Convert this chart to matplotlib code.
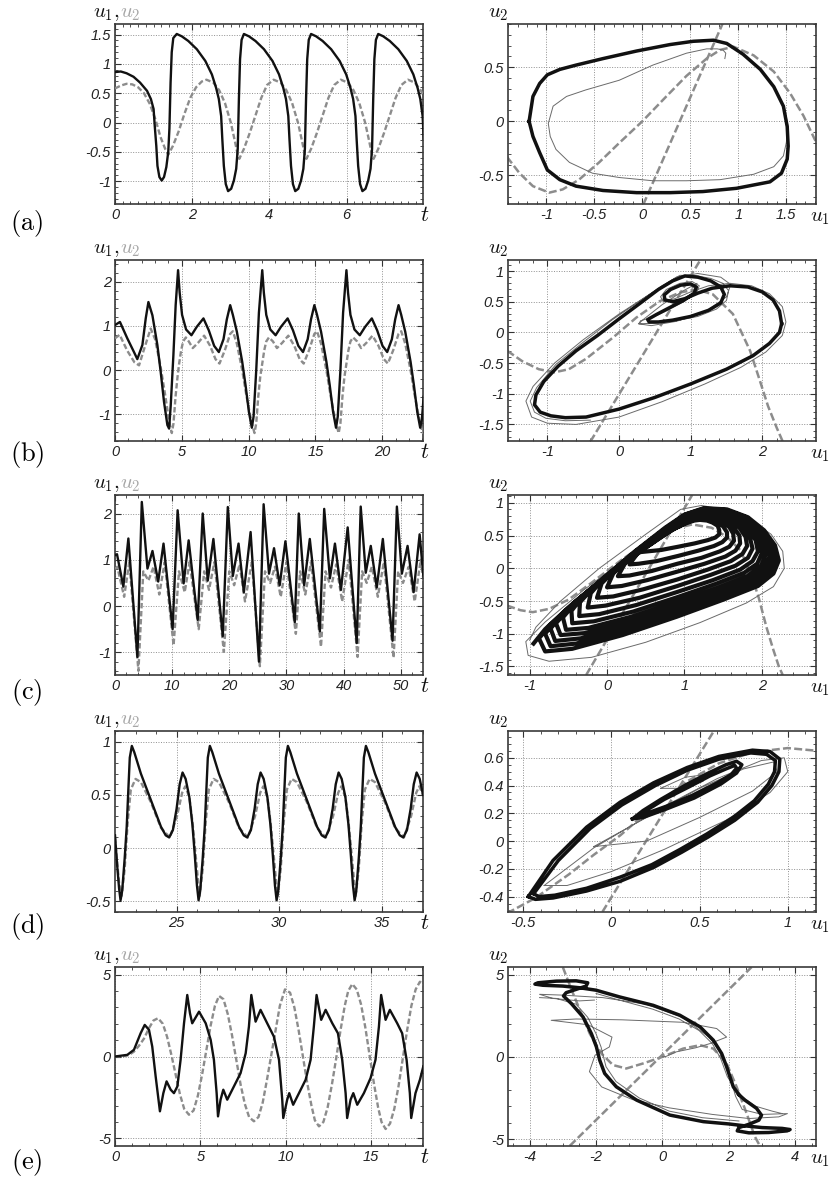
import numpy as np
import matplotlib
matplotlib.use("Agg")
import matplotlib.pyplot as plt
from matplotlib.ticker import AutoMinorLocator

plt.rcParams["font.family"] = ["Liberation Sans", "DejaVu Sans"]
plt.rcParams["mathtext.fontset"] = "cm"

nan = np.nan

# ---------------- row (a) ----------------
a_u1 = [(0.00, 0.86), (0.15, 0.87), (0.30, 0.84), (0.48, 0.78), (0.65, 0.68), (0.83, 0.54), (0.93, 0.40),
        (1.00, 0.23), (1.03, -0.06), (1.07, -0.40), (1.10, -0.74), (1.15, -0.93), (1.21, -0.99), (1.27, -0.93),
        (1.33, -0.76), (1.38, -0.50), (1.41, -0.10), (1.44, 0.68), (1.47, 1.20), (1.51, 1.44), (1.60, 1.51),
        (1.73, 1.47), (1.90, 1.39), (2.12, 1.25), (2.34, 1.05), (2.51, 0.82), (2.62, 0.59), (2.69, 0.40),
        (2.75, 0.11), (2.78, -0.28), (2.82, -0.74), (2.87, -1.05), (2.93, -1.17), (3.01, -1.13), (3.08, -0.99),
        (3.14, -0.79), (3.18, -0.45), (3.21, 0.40), (3.24, 1.08), (3.28, 1.41), (3.34, 1.51),
        (3.47, 1.47), (3.64, 1.39), (3.86, 1.25), (4.08, 1.05), (4.25, 0.82), (4.36, 0.59), (4.43, 0.40),
        (4.49, 0.11), (4.52, -0.28), (4.56, -0.74), (4.61, -1.05), (4.67, -1.17), (4.75, -1.13), (4.82, -0.99),
        (4.88, -0.79), (4.92, -0.45), (4.95, 0.40), (4.98, 1.08), (5.02, 1.41), (5.08, 1.51),
        (5.21, 1.47), (5.38, 1.39), (5.60, 1.25), (5.82, 1.05), (5.99, 0.82), (6.10, 0.59), (6.17, 0.40),
        (6.23, 0.11), (6.26, -0.28), (6.30, -0.74), (6.35, -1.05), (6.41, -1.17), (6.49, -1.13), (6.56, -0.99),
        (6.62, -0.79), (6.66, -0.45), (6.69, 0.40), (6.72, 1.08), (6.76, 1.41), (6.82, 1.51),
        (6.95, 1.47), (7.12, 1.39), (7.34, 1.25), (7.56, 1.05), (7.73, 0.82), (7.84, 0.59), (7.91, 0.40),
        (7.97, 0.11), (8.00, -0.28)]
a_u2 = [(0.00, 0.58), (0.15, 0.63), (0.30, 0.66), (0.45, 0.65), (0.60, 0.60), (0.75, 0.50), (0.90, 0.32),
        (1.05, 0.05), (1.18, -0.25), (1.30, -0.45), (1.38, -0.55), (1.50, -0.40), (1.65, -0.15), (1.80, 0.15),
        (1.95, 0.42), (2.10, 0.60), (2.25, 0.70), (2.37, 0.73), (2.55, 0.68), (2.70, 0.55), (2.85, 0.33),
        (3.00, 0.00), (3.10, -0.30), (3.18, -0.55), (3.22, -0.62),
        (3.34, -0.45), (3.49, -0.18), (3.64, 0.12), (3.79, 0.42), (3.94, 0.64), (4.11, 0.73), (4.29, 0.68),
        (4.44, 0.55), (4.59, 0.33), (4.74, 0.00), (4.84, -0.30), (4.92, -0.55), (4.96, -0.62),
        (5.08, -0.45), (5.23, -0.18), (5.38, 0.12), (5.53, 0.42), (5.68, 0.64), (5.85, 0.73), (6.03, 0.68),
        (6.18, 0.55), (6.33, 0.33), (6.48, 0.00), (6.58, -0.30), (6.66, -0.55), (6.70, -0.62),
        (6.82, -0.45), (6.97, -0.18), (7.12, 0.12), (7.27, 0.42), (7.42, 0.64), (7.59, 0.73), (7.77, 0.68),
        (7.92, 0.55), (8.00, 0.45)]
a_orbit = [(-1.18, 0.00), (-1.14, 0.23), (-1.07, 0.35), (-0.99, 0.43), (-0.86, 0.48), (-0.69, 0.52),
           (-0.41, 0.58), (-0.06, 0.65), (0.29, 0.71), (0.53, 0.74), (0.74, 0.75), (0.88, 0.72), (1.05, 0.62),
           (1.23, 0.48), (1.37, 0.32), (1.47, 0.14), (1.51, -0.05), (1.52, -0.23), (1.51, -0.35), (1.45, -0.48),
           (1.33, -0.56), (0.98, -0.62), (0.63, -0.65), (0.29, -0.66), (-0.06, -0.66), (-0.41, -0.64),
           (-0.69, -0.60), (-0.86, -0.54), (-0.99, -0.45), (-1.07, -0.29), (-1.14, -0.14), (-1.18, 0.00)]
a_transient = [(0.86, 0.58), (0.87, 0.63), (0.84, 0.66), (0.78, 0.67), (0.67, 0.67), (0.46, 0.63), (0.11, 0.52),
               (-0.24, 0.38), (-0.59, 0.29), (-0.79, 0.23), (-0.93, 0.14), (-0.98, -0.02), (-0.96, -0.14),
               (-0.90, -0.26), (-0.76, -0.38), (-0.52, -0.48), (-0.24, -0.52), (0.11, -0.55), (0.46, -0.55),
               (0.81, -0.54), (1.16, -0.49), (1.37, -0.42), (1.47, -0.32), (1.50, -0.20), (1.52, -0.05),
               (1.48, 0.13)]
a_null_line = [(0.01, -0.77), (0.84, 0.91)]
a_null_cubic = [(-1.41, -0.33), (-1.28, -0.48), (-1.14, -0.60), (-0.97, -0.66), (-0.83, -0.63), (-0.66, -0.54),
                (-0.45, -0.38), (-0.24, -0.20), (0.00, 0.00), (0.25, 0.23), (0.46, 0.42), (0.67, 0.58),
                (0.81, 0.66), (0.95, 0.69), (1.16, 0.61), (1.37, 0.46), (1.54, 0.26), (1.68, 0.05), (1.82, -0.21)]

# ---------------- row (b) ----------------
b_u1 = [(0.00, 1.02), (0.37, 1.09), (0.92, 0.72), (1.42, 0.41), (1.67, 0.25), (2.05, 0.57), (2.30, 1.17),
        (2.50, 1.54), (2.80, 1.24), (3.17, 0.57), (3.42, -0.04), (3.67, -0.72), (3.92, -1.24), (4.05, -1.32),
        (4.17, -0.80), (4.37, 0.34), (4.54, 1.47), (4.72, 2.26),
        (4.84, 1.75), (5.02, 1.25), (5.32, 0.92), (5.72, 0.79), (6.12, 0.98), (6.62, 1.17), (7.02, 0.90),
        (7.42, 0.55), (7.77, 0.41), (8.12, 0.70), (8.37, 1.15), (8.62, 1.47), (8.82, 1.25), (9.12, 0.87),
        (9.52, 0.19), (9.77, -0.34), (10.02, -0.94), (10.24, -1.30), (10.37, -1.05), (10.57, 0.00),
        (10.77, 1.30), (11.02, 2.26),
        (11.14, 1.75), (11.32, 1.25), (11.62, 0.92), (12.02, 0.79), (12.42, 0.98), (12.92, 1.17), (13.32, 0.90),
        (13.72, 0.55), (14.07, 0.41), (14.42, 0.70), (14.67, 1.15), (14.92, 1.47), (15.12, 1.25), (15.42, 0.87),
        (15.82, 0.19), (16.07, -0.34), (16.32, -0.94), (16.54, -1.30), (16.67, -1.05), (16.87, 0.00),
        (17.07, 1.30), (17.32, 2.26),
        (17.44, 1.75), (17.62, 1.25), (17.92, 0.92), (18.32, 0.79), (18.72, 0.98), (19.22, 1.17), (19.62, 0.90),
        (20.02, 0.55), (20.37, 0.41), (20.72, 0.70), (20.97, 1.15), (21.22, 1.47), (21.42, 1.25), (21.72, 0.87),
        (22.12, 0.19), (22.37, -0.34), (22.62, -0.94), (22.84, -1.30), (22.97, -1.10), (23.10, -0.60)]
b_u2 = [(0.00, 0.72), (0.35, 0.80), (0.90, 0.45), (1.45, 0.18), (1.80, 0.11), (2.20, 0.50), (2.67, 0.94),
        (3.00, 0.70), (3.40, 0.10), (3.75, -0.55), (4.05, -1.15), (4.25, -1.42), (4.38, -1.20), (4.53, -0.60),
        (4.68, -0.15), (4.80, 0.15), (4.95, 0.45), (5.10, 0.65), (5.30, 0.74),
        (5.52, 0.65), (5.82, 0.50), (6.22, 0.62), (6.67, 0.78), (7.12, 0.55), (7.52, 0.25), (7.82, 0.15),
        (8.22, 0.45), (8.62, 0.82), (8.82, 0.88), (9.12, 0.60), (9.52, 0.00), (9.82, -0.55), (10.07, -0.95),
        (10.24, -1.20), (10.44, -1.42), (10.57, -1.20), (10.72, -0.60), (10.87, -0.15), (11.02, 0.15),
        (11.17, 0.45), (11.32, 0.65), (11.52, 0.74),
        (11.82, 0.65), (12.12, 0.50), (12.52, 0.62), (12.97, 0.78), (13.42, 0.55), (13.82, 0.25), (14.12, 0.15),
        (14.52, 0.45), (14.92, 0.82), (15.12, 0.88), (15.42, 0.60), (15.82, 0.00), (16.12, -0.55),
        (16.37, -0.95), (16.54, -1.20), (16.74, -1.42), (16.87, -1.20), (17.02, -0.60), (17.17, -0.15),
        (17.32, 0.15), (17.47, 0.45), (17.62, 0.65), (17.82, 0.74),
        (18.12, 0.65), (18.42, 0.50), (18.82, 0.62), (19.27, 0.78), (19.72, 0.55), (20.12, 0.25), (20.42, 0.15),
        (20.82, 0.45), (21.22, 0.82), (21.42, 0.88), (21.72, 0.60), (22.12, 0.00), (22.42, -0.55),
        (22.67, -0.95), (22.84, -1.20), (23.04, -1.42), (23.10, -1.35)]
b_orbit = [(2.27, 0.14), (2.24, 0.35), (2.15, 0.53), (2.00, 0.66), (1.80, 0.74), (1.55, 0.76), (1.30, 0.72),
           (1.10, 0.64), (0.92, 0.55), (0.75, 0.50), (0.64, 0.53), (0.63, 0.61), (0.72, 0.70), (0.86, 0.77),
           (1.00, 0.79), (1.08, 0.74), (1.05, 0.64), (0.90, 0.52), (0.70, 0.40), (0.52, 0.29), (0.40, 0.21),
           (0.42, 0.17), (0.55, 0.17), (0.75, 0.20), (1.00, 0.26), (1.25, 0.36), (1.42, 0.48), (1.47, 0.62),
           (1.42, 0.74), (1.28, 0.84), (1.10, 0.90), (0.92, 0.92), (0.75, 0.84), (0.55, 0.70), (0.30, 0.48),
           (0.00, 0.22), (-0.30, -0.05), (-0.60, -0.30), (-0.85, -0.55), (-1.05, -0.80), (-1.16, -1.02),
           (-1.18, -1.18), (-1.10, -1.30), (-0.95, -1.36), (-0.75, -1.39), (-0.46, -1.38), (0.00, -1.25),
           (0.50, -1.06), (1.00, -0.84), (1.50, -0.60), (1.87, -0.38), (2.10, -0.18), (2.24, 0.00), (2.27, 0.14)]
b_transient = [(1.02, 0.72), (1.09, 0.80), (0.90, 0.68), (0.60, 0.45), (0.35, 0.22), (0.27, 0.14), (0.45, 0.11),
               (0.80, 0.18), (1.20, 0.33), (1.50, 0.58), (1.56, 0.78), (1.42, 0.90), (1.10, 0.96), (0.80, 0.90),
               (0.40, 0.60), (0.00, 0.30), (-0.50, -0.12), (-0.90, -0.50), (-1.20, -0.88), (-1.30, -1.12),
               (-1.22, -1.38), (-1.00, -1.48), (-0.60, -1.50), (0.00, -1.38), (0.60, -1.13), (1.20, -0.84),
               (1.70, -0.57), (2.05, -0.32), (2.28, -0.05), (2.33, 0.17), (2.28, 0.42), (2.10, 0.63),
               (1.85, 0.76), (1.55, 0.80), (1.25, 0.76), (1.00, 0.66), (0.78, 0.55), (0.62, 0.50), (0.58, 0.58),
               (0.66, 0.70), (0.85, 0.80), (1.02, 0.83), (1.12, 0.76), (1.08, 0.64), (0.90, 0.50), (0.68, 0.36),
               (0.48, 0.25), (0.30, 0.19), (0.28, 0.14), (0.50, 0.15), (0.80, 0.19), (1.10, 0.26), (1.36, 0.38),
               (1.50, 0.52), (1.53, 0.68), (1.45, 0.80), (1.28, 0.88), (1.05, 0.93), (0.85, 0.93), (0.60, 0.76),
               (0.30, 0.52), (-0.10, 0.20), (-0.50, -0.16), (-0.88, -0.52), (-1.15, -0.90), (-1.24, -1.12),
               (-1.18, -1.30), (-1.02, -1.40), (-0.75, -1.44), (-0.40, -1.43)]
b_null_line = [(-0.40, -1.78), (1.13, 1.17)]
b_null_cubic = [(-1.56, -0.30), (-1.35, -0.47), (-1.12, -0.60), (-0.90, -0.65), (-0.70, -0.60), (-0.46, -0.43),
                (-0.08, -0.08), (0.24, 0.24), (0.57, 0.51), (0.85, 0.65), (1.08, 0.70), (1.31, 0.62),
                (1.59, 0.30), (1.83, -0.30), (1.97, -0.80), (2.08, -1.20), (2.20, -1.55), (2.29, -1.79)]

# ---------------- row (c) ----------------
c_u1 = [(0.00, 1.10), (0.35, 1.12), (1.46, 0.42), (2.34, 1.46), (3.92, -1.10), (4.69, 2.25), (5.68, 0.81),
        (6.56, 1.19), (7.56, 0.53), (8.49, 1.35), (10.08, -0.50), (10.96, 2.07), (12.01, 0.49), (12.89, 1.42),
        (14.47, -0.30), (15.35, 2.00), (16.23, 0.55), (17.22, 1.45), (18.86, -0.65), (19.74, 2.14),
        (20.62, 0.65), (21.62, 1.35), (22.55, 0.30), (23.73, 1.60), (25.19, -1.20), (26.01, 2.20),
        (26.95, 0.70), (27.83, 1.25), (28.82, 0.45), (29.82, 1.40), (31.46, -0.35), (32.16, 2.00),
        (33.10, 0.45), (34.09, 1.45), (35.85, -0.55), (36.61, 2.10), (37.61, 0.60), (38.49, 1.35),
        (39.54, 0.35), (40.72, 1.70), (42.30, -0.80), (43.00, 2.15), (43.88, 0.72), (44.76, 1.30),
        (45.81, 0.40), (46.87, 1.45), (48.57, -0.75), (49.33, 2.15), (50.20, 0.70), (51.20, 1.30),
        (52.26, 0.30), (53.31, 1.55), (54.00, 0.60)]
c_u2 = [(0.00, 0.80), (0.40, 0.85), (1.60, 0.20), (2.50, 0.95), (4.10, -1.40), (4.95, 0.75), (5.85, 0.55),
        (6.75, 0.85), (7.75, 0.25), (8.70, 0.95), (10.25, -0.85), (11.20, 0.75), (12.20, 0.30), (13.05, 0.95),
        (14.65, -0.50), (15.60, 0.75), (16.45, 0.35), (17.40, 0.95), (19.05, -0.99), (20.00, 0.75),
        (20.85, 0.45), (21.80, 0.90), (22.75, 0.10), (23.95, 0.95), (25.35, -1.30), (26.25, 0.75),
        (27.15, 0.50), (28.00, 0.85), (29.00, 0.20), (30.00, 0.95), (31.65, -0.60), (32.40, 0.75),
        (33.30, 0.25), (34.30, 0.95), (36.05, -0.88), (36.85, 0.75), (37.80, 0.40), (38.70, 0.90),
        (39.75, 0.10), (40.90, 1.00), (42.45, -1.10), (43.25, 0.75), (44.05, 0.50), (44.95, 0.85),
        (46.00, 0.20), (47.05, 0.95), (48.75, -1.12), (49.55, 0.75), (50.40, 0.50), (51.40, 0.85),
        (52.45, 0.10), (53.50, 1.00), (54.00, 0.55)]
# nested loops of the chaotic band, outermost first (20 points per loop)
c_orbit = [
    (-0.95, -1.15), (-0.80, -0.93), (-0.50, -0.60), (-0.10, -0.20), (0.35, 0.25), (0.75, 0.62), (1.00, 0.82),
    (1.25, 0.92), (1.55, 0.90), (1.82, 0.78), (2.03, 0.58), (2.17, 0.35), (2.22, 0.12), (2.15, -0.08),
    (1.95, -0.27), (1.50, -0.48), (0.90, -0.74), (0.20, -1.02), (-0.45, -1.23), (-0.80, -1.27),
    (-0.88, -1.07), (-0.73, -0.86), (-0.44, -0.54), (-0.05, -0.16), (0.38, 0.27), (0.77, 0.62), (1.01, 0.82),
    (1.25, 0.91), (1.54, 0.89), (1.80, 0.78), (2.00, 0.58), (2.13, 0.36), (2.18, 0.14), (2.11, -0.05),
    (1.92, -0.23), (1.48, -0.43), (0.90, -0.68), (0.23, -0.95), (-0.40, -1.15), (-0.73, -1.19),
    (-0.80, -1.00), (-0.66, -0.79), (-0.38, -0.48), (0.00, -0.12), (0.41, 0.29), (0.78, 0.63), (1.01, 0.81),
    (1.25, 0.90), (1.52, 0.88), (1.77, 0.77), (1.97, 0.59), (2.09, 0.38), (2.14, 0.16), (2.07, -0.02),
    (1.88, -0.20), (1.46, -0.39), (0.90, -0.63), (0.25, -0.88), (-0.34, -1.07), (-0.67, -1.11),
    (-0.73, -0.92), (-0.59, -0.72), (-0.32, -0.43), (0.04, -0.08), (0.44, 0.31), (0.80, 0.63), (1.02, 0.81),
    (1.24, 0.89), (1.51, 0.87), (1.75, 0.77), (1.93, 0.59), (2.05, 0.39), (2.10, 0.18), (2.03, 0.01),
    (1.85, -0.16), (1.44, -0.34), (0.90, -0.57), (0.28, -0.81), (-0.29, -0.99), (-0.60, -1.02),
    (-0.66, -0.84), (-0.52, -0.65), (-0.26, -0.37), (0.09, -0.04), (0.47, 0.33), (0.81, 0.64), (1.03, 0.80),
    (1.24, 0.88), (1.49, 0.86), (1.72, 0.76), (1.90, 0.59), (2.02, 0.40), (2.05, 0.21), (1.99, 0.04),
    (1.81, -0.12), (1.42, -0.30), (0.90, -0.51), (0.31, -0.74), (-0.24, -0.91), (-0.53, -0.94),
    (-0.57, -0.75), (-0.44, -0.57), (-0.18, -0.30), (0.15, 0.01), (0.51, 0.36), (0.83, 0.64), (1.04, 0.79),
    (1.24, 0.87), (1.48, 0.85), (1.69, 0.76), (1.86, 0.60), (1.97, 0.42), (2.00, 0.23), (1.94, 0.07),
    (1.77, -0.07), (1.40, -0.24), (0.91, -0.44), (0.34, -0.66), (-0.17, -0.81), (-0.45, -0.84),
    (-0.46, -0.65), (-0.34, -0.47), (-0.10, -0.22), (0.21, 0.07), (0.55, 0.39), (0.86, 0.65), (1.05, 0.79),
    (1.23, 0.86), (1.46, 0.84), (1.66, 0.75), (1.82, 0.60), (1.92, 0.43), (1.95, 0.26), (1.88, 0.11),
    (1.72, -0.02), (1.37, -0.18), (0.91, -0.36), (0.38, -0.56), (-0.10, -0.70), (-0.36, -0.73),
    (-0.35, -0.52), (-0.23, -0.36), (0.00, -0.13), (0.29, 0.14), (0.60, 0.42), (0.88, 0.66), (1.06, 0.78),
    (1.23, 0.84), (1.44, 0.83), (1.62, 0.74), (1.76, 0.61), (1.85, 0.45), (1.88, 0.30), (1.82, 0.16),
    (1.66, 0.04), (1.34, -0.10), (0.91, -0.27), (0.42, -0.45), (-0.02, -0.57), (-0.25, -0.60),
    (-0.21, -0.38), (-0.10, -0.23), (0.11, -0.02), (0.38, 0.21), (0.66, 0.46), (0.91, 0.67), (1.07, 0.77),
    (1.23, 0.83), (1.41, 0.81), (1.58, 0.74), (1.71, 0.62), (1.79, 0.48), (1.81, 0.34), (1.75, 0.22),
    (1.60, 0.11), (1.30, -0.02), (0.91, -0.17), (0.47, -0.32), (0.08, -0.43), (-0.13, -0.45),
    (-0.07, -0.23), (0.04, -0.10), (0.23, 0.09), (0.47, 0.29), (0.72, 0.50), (0.94, 0.67), (1.08, 0.76),
    (1.22, 0.81), (1.38, 0.79), (1.53, 0.73), (1.64, 0.62), (1.71, 0.50), (1.72, 0.38), (1.66, 0.27),
    (1.53, 0.18), (1.26, 0.07), (0.91, -0.05), (0.52, -0.18), (0.19, -0.27), (0.00, -0.29),
    (0.08, -0.08), (0.18, 0.04), (0.35, 0.21), (0.57, 0.37), (0.78, 0.54), (0.97, 0.68), (1.10, 0.75),
    (1.22, 0.79), (1.35, 0.77), (1.48, 0.72), (1.58, 0.63), (1.63, 0.53), (1.64, 0.42), (1.58, 0.33),
    (1.46, 0.26), (1.22, 0.16), (0.91, 0.07), (0.58, -0.04), (0.29, -0.11), (0.14, -0.12),
    (0.24, 0.09), (0.33, 0.20), (0.49, 0.33), (0.67, 0.46), (0.85, 0.59), (1.01, 0.69), (1.11, 0.74),
    (1.21, 0.77), (1.32, 0.75), (1.42, 0.71), (1.50, 0.64), (1.55, 0.55), (1.55, 0.47), (1.49, 0.40),
    (1.38, 0.34), (1.18, 0.27), (0.92, 0.19), (0.64, 0.11), (0.41, 0.07), (0.29, 0.06),
    (0.42, 0.27), (0.50, 0.36), (0.63, 0.47), (0.78, 0.56), (0.93, 0.64), (1.05, 0.70), (1.13, 0.73),
    (1.20, 0.74), (1.29, 0.73), (1.36, 0.70), (1.43, 0.65), (1.45, 0.58), (1.45, 0.52), (1.40, 0.47),
    (1.30, 0.43), (1.13, 0.38), (0.92, 0.33), (0.70, 0.28), (0.54, 0.26), (0.45, 0.25)]
c_transient = [(1.10, 0.80), (0.80, 0.62), (0.30, 0.20), (-0.30, -0.33), (-0.80, -0.82), (-1.05, -1.12),
               (-1.02, -1.33), (-0.75, -1.42), (-0.20, -1.36), (0.50, -1.13), (1.20, -0.83), (1.80, -0.53),
               (2.15, -0.28), (2.29, 0.00), (2.27, 0.26), (2.12, 0.52), (1.86, 0.74), (1.52, 0.90), (1.22, 0.96),
               (0.95, 0.90), (0.50, 0.52), (-0.10, 0.00), (-0.60, -0.50), (-0.92, -0.90), (-1.00, -1.10)]
c_null_line = [(-0.27, -1.63), (1.10, 1.12)]
c_null_cubic = [(-1.29, -0.57), (-1.12, -0.64), (-0.96, -0.67), (-0.75, -0.62), (-0.50, -0.48), (-0.20, -0.22),
                (0.20, 0.14), (0.55, 0.42), (0.85, 0.60), (1.10, 0.67), (1.35, 0.62), (1.55, 0.48), (1.72, 0.28),
                (1.85, -0.05), (1.96, -0.45), (2.06, -0.90), (2.15, -1.25), (2.22, -1.50), (2.27, -1.63)]

# ---------------- row (d) ----------------
d_u1 = [(22.00, 0.12), (22.10, -0.15), (22.20, -0.38), (22.27, -0.49), (22.35, -0.40), (22.47, -0.10),
        (22.57, 0.20), (22.65, 0.55), (22.72, 0.85), (22.82, 0.96),
        (22.94, 0.90), (23.26, 0.70), (23.75, 0.45), (24.24, 0.20), (24.47, 0.12), (24.64, 0.10), (24.82, 0.17),
        (25.00, 0.37), (25.15, 0.60), (25.29, 0.71), (25.44, 0.65), (25.62, 0.48), (25.77, 0.22), (25.88, -0.05),
        (25.99, -0.35), (26.07, -0.49), (26.15, -0.40), (26.27, -0.10), (26.37, 0.20), (26.45, 0.55),
        (26.52, 0.85), (26.62, 0.96),
        (26.74, 0.90), (27.06, 0.70), (27.55, 0.45), (28.04, 0.20), (28.27, 0.12), (28.44, 0.10), (28.62, 0.17),
        (28.80, 0.37), (28.95, 0.60), (29.09, 0.71), (29.24, 0.65), (29.42, 0.48), (29.57, 0.22), (29.68, -0.05),
        (29.79, -0.35), (29.87, -0.49), (29.95, -0.40), (30.07, -0.10), (30.17, 0.20), (30.25, 0.55),
        (30.32, 0.85), (30.42, 0.96),
        (30.54, 0.90), (30.86, 0.70), (31.35, 0.45), (31.84, 0.20), (32.07, 0.12), (32.24, 0.10), (32.42, 0.17),
        (32.60, 0.37), (32.75, 0.60), (32.89, 0.71), (33.04, 0.65), (33.22, 0.48), (33.37, 0.22), (33.48, -0.05),
        (33.59, -0.35), (33.67, -0.49), (33.75, -0.40), (33.87, -0.10), (33.97, 0.20), (34.05, 0.55),
        (34.12, 0.85), (34.22, 0.96),
        (34.34, 0.90), (34.66, 0.70), (35.15, 0.45), (35.64, 0.20), (35.87, 0.12), (36.04, 0.10), (36.22, 0.17),
        (36.40, 0.37), (36.55, 0.60), (36.69, 0.71), (36.84, 0.65), (37.00, 0.50)]
d_u2 = [(22.00, 0.10), (22.10, -0.12), (22.20, -0.33), (22.32, -0.45), (22.47, -0.20), (22.62, 0.25),
        (22.77, 0.55), (23.00, 0.65), (23.26, 0.62), (23.75, 0.43), (24.24, 0.19), (24.67, 0.10), (25.02, 0.30),
        (25.27, 0.52), (25.42, 0.58), (25.62, 0.48), (25.77, 0.25), (25.92, -0.05), (26.04, -0.30),
        (26.12, -0.45), (26.27, -0.20), (26.42, 0.25), (26.57, 0.55), (26.80, 0.65), (27.06, 0.62),
        (27.55, 0.43), (28.04, 0.19), (28.47, 0.10), (28.82, 0.30), (29.07, 0.52), (29.22, 0.58), (29.42, 0.48),
        (29.57, 0.25), (29.72, -0.05), (29.84, -0.30), (29.92, -0.45), (30.07, -0.20), (30.22, 0.25),
        (30.37, 0.55), (30.60, 0.65), (30.86, 0.62), (31.35, 0.43), (31.84, 0.19), (32.27, 0.10), (32.62, 0.30),
        (32.87, 0.52), (33.02, 0.58), (33.22, 0.48), (33.37, 0.25), (33.52, -0.05), (33.64, -0.30),
        (33.72, -0.45), (33.87, -0.20), (34.02, 0.25), (34.17, 0.55), (34.40, 0.65), (34.66, 0.62),
        (35.15, 0.43), (35.64, 0.19), (36.07, 0.10), (36.42, 0.30), (36.67, 0.52), (36.82, 0.58), (37.00, 0.50)]
d_orbit = [(-0.47, -0.40), (-0.40, -0.27), (-0.33, -0.14), (-0.14, 0.10), (0.05, 0.28), (0.24, 0.42), (0.43, 0.53),
           (0.61, 0.61), (0.80, 0.655), (0.90, 0.645), (0.955, 0.59), (0.95, 0.50), (0.91, 0.40), (0.83, 0.28),
           (0.70, 0.15), (0.55, 0.03), (0.40, -0.08), (0.24, -0.19), (0.05, -0.29), (-0.14, -0.36),
           (-0.33, -0.41), (-0.43, -0.42), (-0.47, -0.40), (nan, nan),
           (-0.44, -0.38), (-0.37, -0.26), (-0.30, -0.14), (-0.12, 0.09), (0.06, 0.26), (0.25, 0.40), (0.43, 0.51),
           (0.61, 0.59), (0.79, 0.635), (0.88, 0.625), (0.93, 0.58), (0.925, 0.50), (0.89, 0.41), (0.81, 0.29),
           (0.69, 0.17), (0.54, 0.05), (0.39, -0.06), (0.23, -0.17), (0.05, -0.26), (-0.14, -0.34),
           (-0.32, -0.39), (-0.41, -0.40), (-0.44, -0.38), (nan, nan),
           (0.12, 0.16), (0.18, 0.22), (0.28, 0.30), (0.43, 0.41), (0.55, 0.49), (0.65, 0.55), (0.71, 0.575),
           (0.74, 0.55), (0.71, 0.49), (0.62, 0.41), (0.47, 0.31), (0.31, 0.23), (0.18, 0.17), (0.12, 0.16),
           (nan, nan),
           (0.15, 0.18), (0.21, 0.23), (0.30, 0.30), (0.44, 0.39), (0.56, 0.47), (0.65, 0.52), (0.70, 0.545),
           (0.71, 0.525), (0.68, 0.48), (0.60, 0.42), (0.46, 0.33), (0.31, 0.25), (0.20, 0.20), (0.15, 0.18)]
d_transient = [(-0.38, -0.32), (-0.10, -0.05), (0.30, 0.25), (0.60, 0.45), (0.85, 0.58), (0.98, 0.60), (1.00, 0.50),
               (0.90, 0.35), (0.65, 0.15), (0.30, -0.06), (0.00, -0.22), (-0.25, -0.32), (-0.38, -0.32),
               (nan, nan),
               (-0.10, -0.04), (0.20, 0.17), (0.50, 0.38), (0.75, 0.52), (0.92, 0.57), (0.94, 0.50), (0.80, 0.36),
               (0.50, 0.17), (0.20, 0.00), (-0.10, -0.04), (nan, nan),
               (0.28, 0.38), (0.42, 0.46), (0.54, 0.48), (0.52, 0.43), (0.40, 0.38), (0.28, 0.38)]
d_null_line = [(-0.05, -0.51), (0.58, 0.79)]
d_null_cubic = [(-0.59, -0.52), (-0.43, -0.41), (-0.24, -0.24), (-0.10, -0.10), (0.05, 0.04), (0.24, 0.25),
                (0.43, 0.43), (0.61, 0.56), (0.80, 0.64), (1.00, 0.67), (1.17, 0.65)]

# ---------------- row (e) ----------------
e_u1 = [(0.00, 0.00), (0.72, 0.10), (1.11, 0.41), (1.50, 1.42), (1.74, 1.93), (1.99, 1.63), (2.18, 0.61),
        (2.38, -1.22), (2.63, -3.35), (2.83, -2.24), (3.02, -1.52), (3.26, -2.03), (3.45, -2.24), (3.65, -1.83),
        (3.84, -0.20), (4.04, 2.03), (4.23, 3.76), (4.39, 2.64), (4.52, 2.03), (4.92, 2.74), (5.31, 2.03),
        (5.60, 1.02), (5.79, -0.20), (5.95, -2.24), (6.03, -3.66), (6.18, -2.64), (6.34, -2.03), (6.57, -2.64),
        (6.96, -1.83), (7.35, -1.02), (7.65, 0.20), (7.84, 1.83), (7.98, 3.76), (8.23, 2.13), (8.52, 2.85),
        (8.91, 2.03), (9.30, 1.22), (9.60, -0.20), (9.79, -2.64), (9.85, -3.76), (10.08, -2.64), (10.20, -2.24),
        (10.43, -2.95), (10.77, -2.24), (11.16, -1.42), (11.45, -0.20), (11.64, 1.83), (11.80, 3.76),
        (12.07, 2.24), (12.33, 2.85), (12.72, 2.03), (13.05, 1.42), (13.30, -0.20), (13.50, -2.24),
        (13.59, -3.76), (13.79, -2.64), (13.95, -2.24), (14.18, -2.95), (14.57, -2.24), (14.96, -1.32),
        (15.25, -0.20), (15.45, 1.83), (15.58, 3.76), (15.84, 2.24), (16.09, 2.85), (16.52, 2.03),
        (16.81, 1.42), (17.07, -0.20), (17.26, -2.24), (17.34, -3.76), (17.59, -2.24), (17.85, -1.42),
        (18.05, -0.60)]
e_u2 = [(0.00, 0.00), (0.50, 0.02), (0.80, 0.08), (1.11, 0.30), (1.40, 0.65), (1.70, 1.10), (2.00, 1.75),
        (2.25, 2.20), (2.52, 2.34), (2.80, 2.00), (3.05, 1.20), (3.30, 0.10), (3.55, -1.10), (3.80, -2.30),
        (4.05, -3.20), (4.33, -3.56), (4.60, -3.30), (4.85, -2.40), (5.10, -1.10), (5.35, 0.40), (5.60, 1.90),
        (5.85, 3.10), (6.09, 3.70), (6.35, 3.50), (6.60, 2.60), (6.85, 1.30), (7.10, -0.20), (7.35, -1.70),
        (7.60, -2.90), (7.85, -3.70), (8.13, -3.96), (8.40, -3.70), (8.65, -2.80), (8.90, -1.40), (9.15, 0.10),
        (9.40, 1.60), (9.65, 3.10), (9.95, 4.10), (10.25, 3.90), (10.50, 3.00), (10.75, 1.60), (11.00, 0.00),
        (11.25, -1.60), (11.50, -3.00), (11.70, -3.90), (11.94, -4.27), (12.20, -4.00), (12.45, -3.10),
        (12.70, -1.70), (12.95, -0.10), (13.20, 1.60), (13.45, 3.10), (13.65, 4.00), (13.89, 4.43),
        (14.15, 4.10), (14.40, 3.20), (14.65, 1.80), (14.90, 0.10), (15.15, -1.60), (15.40, -3.10),
        (15.60, -4.00), (15.84, -4.43), (16.10, -4.10), (16.35, -3.20), (16.60, -1.80), (16.85, -0.10),
        (17.10, 1.60), (17.35, 3.10), (17.60, 4.10), (17.85, 4.57), (18.05, 4.40)]
e_orbit = [(2.30, -2.30), (2.48, -2.63), (2.83, -3.13), (2.98, -3.55), (2.90, -3.85), (2.60, -4.10), (2.30, -4.30),
           (2.25, -4.50), (2.60, -4.62), (3.20, -4.60), (3.75, -4.50), (3.84, -4.42), (3.60, -4.35),
           (3.00, -4.30), (2.50, -4.20), (2.00, -4.08), (1.23, -3.94), (0.22, -3.54), (-0.78, -2.63),
           (-1.39, -1.82), (-1.74, -1.01), (-1.89, -0.20), (-1.99, 0.61), (-2.14, 1.41), (-2.39, 2.42),
           (-2.74, 3.23), (-2.98, 3.70), (-2.90, 3.90), (-2.60, 4.10), (-2.30, 4.30), (-2.25, 4.50),
           (-2.60, 4.62), (-3.20, 4.60), (-3.75, 4.50), (-3.84, 4.42), (-3.60, 4.35), (-3.00, 4.30),
           (-2.50, 4.20), (-2.00, 4.05), (-1.29, 3.64), (-0.28, 3.13), (0.52, 2.53), (1.13, 1.82), (1.53, 1.01),
           (1.78, 0.20), (1.93, -0.60), (2.13, -1.82), (2.30, -2.30)]
e_transient = [(0.00, 0.00), (0.10, 0.02), (0.41, 0.30), (1.00, 0.55), (1.42, 0.80), (1.93, 1.20), (1.63, 1.72),
               (0.61, 2.10), (-1.22, 2.25), (-2.60, 2.30), (-3.35, 2.22), (-2.24, 1.95), (-1.52, 1.20),
               (-1.60, 0.60), (-2.03, 0.10), (-2.20, -0.90), (-1.83, -1.83), (-0.90, -2.60), (0.20, -3.10),
               (1.50, -3.50), (2.60, -3.75), (3.50, -3.65), (3.76, -3.45), (3.00, -3.50), (2.40, -3.20),
               (2.20, -2.40), (2.00, -1.00), (1.80, 0.20), (1.40, 1.20), (0.60, 2.40), (-0.50, 3.20),
               (-1.80, 3.60), (-3.00, 3.75), (-3.70, 3.80), (-3.30, 3.55), (-2.50, 3.40), (-2.05, 3.45),
               (nan, nan),
               (-2.00, 3.85), (-1.30, 3.45), (-0.30, 2.90), (0.50, 2.30), (1.10, 1.60), (1.50, 0.80),
               (1.75, -0.10), (1.95, -1.20), (2.30, -2.30), (2.80, -3.00), (3.30, -3.30), (3.60, -3.45),
               (nan, nan),
               (2.30, -3.90), (1.20, -3.70), (0.20, -3.30), (-0.70, -2.50), (-1.40, -1.50), (-1.70, -0.60),
               (-1.85, 0.60), (-2.00, 1.40), (-2.25, 2.40), (-2.60, 3.20), (-3.20, 3.55), (-3.70, 3.60)]
e_null_line = [(-2.79, -5.41), (2.68, 5.45)]
e_null_cubic = [(-3.00, 5.45), (-2.69, 3.84), (-2.19, 1.41), (-1.84, 0.20), (-1.49, -0.50), (-1.09, -0.71),
                (-0.58, -0.40), (0.00, 0.00), (0.62, 0.50), (1.13, 0.71), (1.53, 0.50), (1.93, -0.40),
                (2.23, -1.82), (2.53, -3.43), (2.78, -4.85), (2.93, -5.41)]

# ---------------- axes limits and ticks ----------------
series_xlim = [(0, 7.98), (0, 23.05), (0, 53.9), (22.0, 37.0), (0, 18.03)]
series_ylim = [(-1.39, 1.68), (-1.6, 2.49), (-1.49, 2.40), (-0.60, 1.10), (-5.47, 5.47)]
series_xticks = [[0, 2, 4, 6], [0, 5, 10, 15, 20], [0, 10, 20, 30, 40, 50], [25, 30, 35], [0, 5, 10, 15]]
series_yticks = [[-1, -0.5, 0, 0.5, 1, 1.5], [-1, 0, 1, 2], [-1, 0, 1, 2], [-0.5, 0, 0.5, 1], [-5, 0, 5]]
series_minor = [(10, 5), (5, 5), (5, 5), (5, 5), (5, 5)]

phase_xlim = [(-1.40, 1.81), (-1.55, 2.75), (-1.28, 2.70), (-0.585, 1.16), (-4.65, 4.62)]
phase_ylim = [(-0.765, 0.90), (-1.77, 1.18), (-1.63, 1.12), (-0.511, 0.793), (-5.42, 5.46)]
phase_xticks = [[-1, -0.5, 0, 0.5, 1, 1.5], [-1, 0, 1, 2], [-1, 0, 1, 2], [-0.5, 0, 0.5, 1], [-4, -2, 0, 2, 4]]
phase_yticks = [[-0.5, 0, 0.5], [-1.5, -1, -0.5, 0, 0.5, 1], [-1.5, -1, -0.5, 0, 0.5, 1],
                [-0.4, -0.2, 0, 0.2, 0.4, 0.6], [-5, 0, 5]]
phase_minor = [(5, 5), (5, 5), (5, 5), (5, 4), (4, 5)]
phase_orbit_lw = [2.5, 2.5, 3.0, 2.5, 2.5]

panel_letters = ["a", "b", "c", "d", "e"]

# ---------------- layout (pixels) ----------------
W, H = 832, 1178
rows_px = [(24, 204), (260, 441), (495, 675), (731, 912), (967, 1146)]
letter_y_px = [223, 455, 693, 927, 1163]
LEFT_COL = (115, 423)
RIGHT_COL = (508, 816)

BLACK = "#111111"
GRAY = "#8c8c8c"
THIN = "#6a6a6a"
U2_LABEL = "#a6a6a6"

fig = plt.figure(figsize=(W / 100, H / 100), dpi=100)


def add_axes(col, row):
    left, right = col
    top, bottom = row
    return fig.add_axes([left / W, 1 - bottom / H, (right - left) / W, (bottom - top) / H])


def xy(points):
    arr = np.array(points, dtype=float)
    return arr[:, 0], arr[:, 1]


def style(ax, xlim, ylim, xticks, yticks, minor):
    ax.set_xlim(*xlim)
    ax.set_ylim(*ylim)
    ax.set_xticks(xticks, labels=[f"{v:g}" for v in xticks], fontstyle="italic", fontsize=10.5)
    ax.set_yticks(yticks, labels=[f"{v:g}" for v in yticks], fontstyle="italic", fontsize=10.5)
    ax.xaxis.set_minor_locator(AutoMinorLocator(minor[0]))
    ax.yaxis.set_minor_locator(AutoMinorLocator(minor[1]))
    ax.tick_params(which="both", direction="in", top=True, right=True, color="#333333",
                   labelcolor="#222222")
    ax.tick_params(which="major", length=4.5, width=0.8, pad=3)
    ax.tick_params(which="minor", length=2.5, width=0.6)
    ax.grid(True, which="major", color="#8f8f8f", lw=0.7, ls=(0, (1, 1.6)))
    ax.set_axisbelow(True)
    for sp in ax.spines.values():
        sp.set_linewidth(1.2)
        sp.set_color("#3a3a3a")


for i in range(5):
    # time series
    ax = add_axes(LEFT_COL, rows_px[i])
    u1 = [a_u1, b_u1, c_u1, d_u1, e_u1][i]
    u2 = [a_u2, b_u2, c_u2, d_u2, e_u2][i]
    t, v = xy(u2)
    ax.plot(t, v, color=GRAY, lw=1.7, dashes=(2.3, 1.1), zorder=3)
    t, v = xy(u1)
    ax.plot(t, v, color=BLACK, lw=1.7, zorder=4, solid_joinstyle="round")
    style(ax, series_xlim[i], series_ylim[i], series_xticks[i], series_yticks[i], series_minor[i])
    ax.text(-0.072, 1.004, r"$u_1,$", transform=ax.transAxes, fontsize=15, color=BLACK,
            ha="left", va="bottom")
    ax.text(0.016, 1.004, r"$u_2$", transform=ax.transAxes, fontsize=15, color=U2_LABEL,
            ha="left", va="bottom")
    ax.text(1.004, -0.062, r"$t$", transform=ax.transAxes, fontsize=16, color=BLACK,
            ha="center", va="center")

    # phase portrait
    ax = add_axes(RIGHT_COL, rows_px[i])
    orbit = [a_orbit, b_orbit, c_orbit, d_orbit, e_orbit][i]
    transient = [a_transient, b_transient, c_transient, d_transient, e_transient][i]
    nl = [a_null_line, b_null_line, c_null_line, d_null_line, e_null_line][i]
    nc = [a_null_cubic, b_null_cubic, c_null_cubic, d_null_cubic, e_null_cubic][i]
    for curve in (nl, nc):
        x, y = xy(curve)
        ax.plot(x, y, color=GRAY, lw=1.8, dashes=(3.2, 1.3), zorder=2)
    x, y = xy(transient)
    ax.plot(x, y, color=THIN, lw=0.7, zorder=3)
    x, y = xy(orbit)
    ax.plot(x, y, color=BLACK, lw=phase_orbit_lw[i], zorder=4, solid_joinstyle="round")
    style(ax, phase_xlim[i], phase_ylim[i], phase_xticks[i], phase_yticks[i], phase_minor[i])
    ax.text(-0.066, 1.004, r"$u_2$", transform=ax.transAxes, fontsize=15, color=BLACK,
            ha="left", va="bottom")
    ax.text(1.047, -0.075, r"$u_1$", transform=ax.transAxes, fontsize=15, color=BLACK,
            ha="right", va="center")

    fig.text(27 / W, 1 - letter_y_px[i] / H, r"$(\mathrm{" + panel_letters[i] + r"})$",
             fontsize=19, ha="center", va="center")

fig.savefig("out.png", dpi=100)
